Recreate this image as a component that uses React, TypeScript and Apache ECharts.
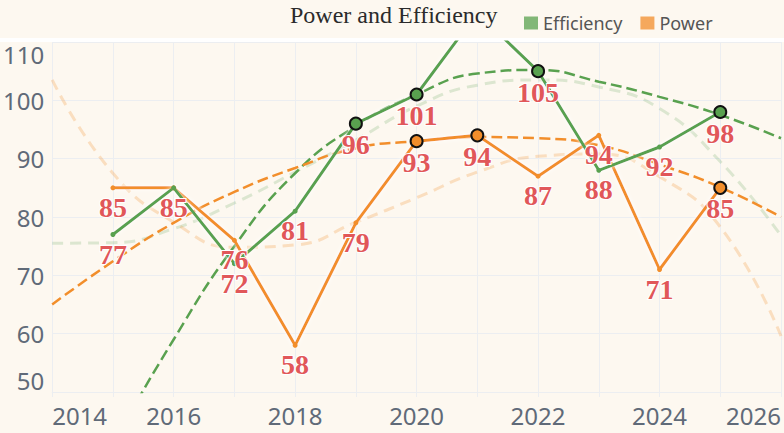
import React, { useEffect, useRef } from 'react';
import * as echarts from 'echarts';

// ---- data ----
const years = [2015, 2016, 2017, 2018, 2019, 2020, 2021, 2022, 2023, 2024, 2025];
const efficiency = [77, 85, 72, 81, 96, 101, 115, 105, 88, 92, 98];
const power = [85, 85, 76, 58, 79, 93, 94, 87, 94, 71, 85];
const efficiencyHighlights = [2019, 2020, 2022, 2025];
const powerHighlights = [2020, 2021, 2025];

const trendYears = [2014, 2015, 2016, 2017, 2018, 2019, 2020, 2021, 2022, 2023, 2024, 2025, 2026];
const efficiencyTrend = [22, 41, 59, 75, 87.5, 95.6, 101, 104.6, 105.2, 103.2, 100.6, 97.5, 93.5];
const powerTrend = [65, 72.4, 79, 84.3, 88.4, 91.8, 93, 93.7, 93.5, 92.3, 89, 85.1, 80];
const efficiencyTrendLight = [75.5, 75.6, 78, 82.4, 87.7, 93.2, 99, 102.6, 103.5, 102.3, 98.6, 89.5, 76.8];
const powerTrendLight = [103.5, 87.5, 79.1, 74.8, 75.2, 79.1, 83.3, 87.7, 90.4, 90.8, 86.9, 78.3, 59.6];

const GREEN = '#59a14f';
const ORANGE = '#f28e2b';
const LABEL_RED = '#e15759';
const GRID = '#eceef1';
const AXIS_TEXT = '#606a78';

function pointData(values: number[], highlights: number[], color: string) {
  return years.map((y, i) =>
    highlights.includes(y)
      ? {
          value: [y, values[i]],
          symbolSize: 12,
          itemStyle: { color, borderColor: '#111', borderWidth: 2 },
          label: { distance: 0 },
        }
      : { value: [y, values[i]], symbolSize: 5, itemStyle: { color, borderWidth: 0 } }
  );
}

function trendData(values: number[]) {
  return trendYears.map((y, i) => [y, values[i]]);
}

const labelStyle = {
  show: true,
  position: 'bottom',
  distance: 3,
  color: LABEL_RED,
  fontFamily: '"Liberation Serif", "Times New Roman", serif',
  fontWeight: 'bold',
  fontSize: 28,
  textBorderColor: '#fff',
  textBorderWidth: 2,
  formatter: (p: any) => String(p.value[1]),
};

export default function App() {
  const ref = useRef<HTMLDivElement>(null);
  useEffect(() => {
    document.body.style.margin = '0';
    const chart = echarts.init(ref.current!, undefined, { renderer: 'svg' });
    chart.setOption({
      animation: false,
      backgroundColor: '#fdf8f0',
      textStyle: { fontFamily: '"Noto Sans", sans-serif' },
      graphic: [
        { type: 'rect', left: 0, top: 38, shape: { width: 784, height: 4 }, style: { fill: '#ffffff' }, z: -1, silent: true },
        {
          type: 'text',
          left: 290,
          top: 3,
          style: {
            text: 'Power and Efficiency',
            fill: '#2b2b2b',
            font: '24px "Liberation Serif", "Times New Roman", serif',
          },
        },
      ],
      legend: {
        left: 519,
        top: 9,
        icon: 'rect',
        itemWidth: 14,
        itemHeight: 13,
        itemGap: 18,
        textStyle: { fontSize: 18, color: '#555', fontFamily: '"Noto Sans", sans-serif' },
        data: [
          { name: 'Efficiency', itemStyle: { color: '#82b777', borderWidth: 0 } },
          { name: 'Power', itemStyle: { color: '#f5a85c', borderWidth: 0 } },
        ],
      },
      grid: { left: 52, right: 0, top: 42, bottom: 41, containLabel: false },
      xAxis: {
        type: 'value',
        min: 2014,
        max: 2026,
        interval: 1,
        axisLine: { show: true, lineStyle: { color: GRID, width: 1 } },
        axisTick: { show: true, length: 5, lineStyle: { color: GRID } },
        splitLine: { show: true, lineStyle: { color: GRID, width: 1 } },
        axisLabel: {
          fontSize: 24,
          color: AXIS_TEXT,
          margin: 11,
          alignMinLabel: 'left',
          alignMaxLabel: 'right',
          fontFamily: '"Noto Sans", sans-serif',
          formatter: (v: number) => (v % 2 === 0 ? String(v) : ''),
        },
      },
      yAxis: {
        type: 'value',
        min: 50,
        max: 110,
        interval: 10,
        axisLine: { show: false },
        axisTick: { show: false },
        splitLine: { show: true, lineStyle: { color: GRID, width: 1 } },
        axisLabel: {
          fontSize: 24,
          color: AXIS_TEXT,
          margin: 8,
          verticalAlignMinLabel: 'bottom',
          verticalAlignMaxLabel: 'top',
          fontFamily: '"Noto Sans", sans-serif',
        },
      },
      series: [
        {
          name: 'Efficiency trend (light)',
          type: 'line',
          smooth: true,
          symbol: 'none',
          silent: true,
          z: 1,
          data: trendData(efficiencyTrendLight),
          lineStyle: { color: GREEN, opacity: 0.2, width: 3, type: [11, 7] },
        },
        {
          name: 'Power trend (light)',
          type: 'line',
          smooth: true,
          symbol: 'none',
          silent: true,
          z: 1,
          data: trendData(powerTrendLight),
          lineStyle: { color: ORANGE, opacity: 0.25, width: 3, type: [11, 7] },
        },
        {
          name: 'Efficiency trend',
          type: 'line',
          smooth: true,
          symbol: 'none',
          silent: true,
          z: 2,
          data: trendData(efficiencyTrend),
          lineStyle: { color: GREEN, width: 2.5, type: [11, 5] },
        },
        {
          name: 'Power trend',
          type: 'line',
          smooth: true,
          symbol: 'none',
          silent: true,
          z: 2,
          data: trendData(powerTrend),
          lineStyle: { color: ORANGE, width: 2.5, type: [11, 5] },
        },
        {
          name: 'Power',
          type: 'line',
          z: 3,
          symbol: 'circle',
          showAllSymbol: true,
          color: ORANGE,
          data: pointData(power, powerHighlights, ORANGE),
          lineStyle: { color: ORANGE, width: 3, shadowColor: '#ffffff', shadowBlur: 4 },
          label: labelStyle,
        },
        {
          name: 'Efficiency',
          type: 'line',
          z: 3,
          symbol: 'circle',
          showAllSymbol: true,
          color: GREEN,
          data: pointData(efficiency, efficiencyHighlights, GREEN),
          lineStyle: { color: GREEN, width: 3, shadowColor: '#ffffff', shadowBlur: 4 },
          label: labelStyle,
        },
      ],
    });
    return () => chart.dispose();
  }, []);
  return <div ref={ref} style={{ width: 784, height: 433 }} />;
}
